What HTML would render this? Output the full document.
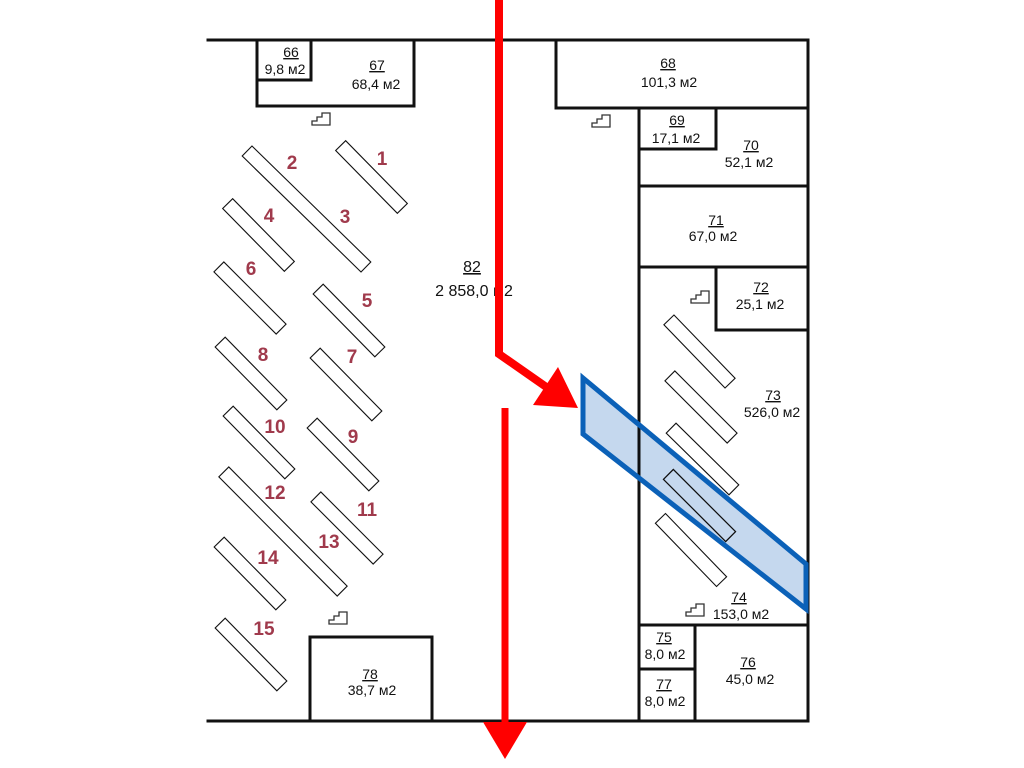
<!DOCTYPE html>
<html>
<head>
<meta charset="utf-8">
<style>
html,body{margin:0;padding:0;background:#fff;}
svg{display:block;}
.lbl{font-family:"Liberation Sans","DejaVu Sans",sans-serif;font-size:14px;fill:#111;text-anchor:middle;}
.u{text-decoration:underline;}
.num{font-family:"Liberation Sans",sans-serif;font-size:19px;font-weight:bold;fill:#a03a4c;text-anchor:middle;}
</style>
</head>
<body>
<svg width="1024" height="768" viewBox="0 0 1024 768" xmlns="http://www.w3.org/2000/svg">
<rect width="1024" height="768" fill="#fff"/>

<!-- shelves -->
<g fill="#fff" stroke="#111" stroke-width="1.1">
  <rect x="-44" y="-7" width="88" height="14" transform="translate(371.5,177) rotate(45.5)"/>
  <rect x="-83" y="-7" width="166" height="14" transform="translate(306.5,209) rotate(44.3)"/>
  <rect x="-44" y="-7" width="88" height="14" transform="translate(258.5,235) rotate(45.5)"/>
  <rect x="-44" y="-7" width="88" height="14" transform="translate(250,298) rotate(45)"/>
  <rect x="-44" y="-7" width="88" height="14" transform="translate(349,320.5) rotate(45.5)"/>
  <rect x="-44" y="-7" width="88" height="14" transform="translate(251,373.5) rotate(45.5)"/>
  <rect x="-44" y="-7" width="88" height="14" transform="translate(346,384.5) rotate(45.5)"/>
  <rect x="-44" y="-7" width="88" height="14" transform="translate(259,442.5) rotate(45.5)"/>
  <rect x="-44" y="-7" width="88" height="14" transform="translate(343,454.5) rotate(45.5)"/>
  <rect x="-84" y="-7" width="168" height="14" transform="translate(283,531.5) rotate(45.2)"/>
  <rect x="-44" y="-7" width="88" height="14" transform="translate(347,528) rotate(45)"/>
  <rect x="-44" y="-7" width="88" height="14" transform="translate(250,573.5) rotate(45.5)"/>
  <rect x="-44" y="-7" width="88" height="14" transform="translate(251,654.5) rotate(45.5)"/>
  <rect x="-44" y="-7" width="88" height="14" transform="translate(699.5,351.5) rotate(46)"/>
  <rect x="-44" y="-7" width="88" height="14" transform="translate(701,407) rotate(45)"/>
  <rect x="-44" y="-7" width="88" height="14" transform="translate(702.5,459) rotate(44.5)"/>
  <rect x="-44" y="-7" width="88" height="14" transform="translate(699.5,505.5) rotate(45)"/>
  <rect x="-44" y="-7" width="88" height="14" transform="translate(691,550) rotate(46)"/>
</g>

<!-- walls -->
<g stroke="#111" stroke-width="3" fill="none" stroke-linecap="square">
  <path d="M208,40 H808"/>
  <path d="M208,721 H808"/>
  <path d="M257,40 V106 H414 V40"/>
  <path d="M257,80 H311 V40"/>
  <path d="M556,40 V108 H808"/>
  <path d="M808,40 V721"/>
  <path d="M639,108 V721"/>
  <path d="M639,149 H716 V108"/>
  <path d="M639,186 H808"/>
  <path d="M639,267 H808"/>
  <path d="M716,267 V330 H808"/>
  <path d="M639,625 H808"/>
  <path d="M695,625 V721"/>
  <path d="M639,669 H695"/>
  <path d="M310,721 V637 H432 V721"/>
</g>

<!-- stairs icons -->
<g fill="none" stroke="#333" stroke-width="1.3" stroke-linejoin="miter">
  <path transform="translate(312,113)" d="M0,12 L0,8 L5,8 L5,4 L10,4 L10,0 L18,0 L18,12 Z"/>
  <path transform="translate(592,115)" d="M0,12 L0,8 L5,8 L5,4 L10,4 L10,0 L18,0 L18,12 Z"/>
  <path transform="translate(691,291)" d="M0,12 L0,8 L5,8 L5,4 L10,4 L10,0 L18,0 L18,12 Z"/>
  <path transform="translate(686,604)" d="M0,12 L0,8 L5,8 L5,4 L10,4 L10,0 L18,0 L18,12 Z"/>
  <path transform="translate(329,612)" d="M0,12 L0,8 L5,8 L5,4 L10,4 L10,0 L18,0 L18,12 Z"/>
</g>

<!-- room labels -->
<text class="lbl u" x="291" y="57">66</text>
<text class="lbl" x="285" y="74">9,8 м2</text>
<text class="lbl u" x="377" y="70">67</text>
<text class="lbl" x="376" y="89">68,4 м2</text>
<text class="lbl u" x="668" y="68">68</text>
<text class="lbl" x="669" y="87">101,3 м2</text>
<text class="lbl u" x="677" y="125">69</text>
<text class="lbl" x="676" y="143">17,1 м2</text>
<text class="lbl u" x="751" y="150">70</text>
<text class="lbl" x="749" y="167">52,1 м2</text>
<text class="lbl u" x="716" y="225">71</text>
<text class="lbl" x="713" y="241">67,0 м2</text>
<text class="lbl u" x="761" y="292">72</text>
<text class="lbl" x="760" y="309">25,1 м2</text>
<text class="lbl u" x="773" y="400">73</text>
<text class="lbl" x="772" y="417">526,0 м2</text>
<text class="lbl u" x="739" y="602">74</text>
<text class="lbl" x="741" y="619">153,0 м2</text>
<text class="lbl u" x="664" y="642">75</text>
<text class="lbl" x="665" y="659">8,0 м2</text>
<text class="lbl u" x="664" y="689">77</text>
<text class="lbl" x="665" y="706">8,0 м2</text>
<text class="lbl u" x="748" y="667">76</text>
<text class="lbl" x="750" y="684">45,0 м2</text>
<text class="lbl u" x="370" y="679">78</text>
<text class="lbl" x="372" y="695">38,7 м2</text>
<text class="lbl u" x="472" y="272" style="font-size:16px">82</text>
<text class="lbl" x="474" y="296" style="font-size:16px">2 858,0 м2</text>

<!-- shelf numbers -->
<text class="num" x="382" y="165">1</text>
<text class="num" x="292" y="169">2</text>
<text class="num" x="345" y="223">3</text>
<text class="num" x="269" y="222">4</text>
<text class="num" x="367" y="307">5</text>
<text class="num" x="251" y="275">6</text>
<text class="num" x="352" y="363">7</text>
<text class="num" x="263" y="361">8</text>
<text class="num" x="353" y="443">9</text>
<text class="num" x="275" y="433">10</text>
<text class="num" x="367" y="516">11</text>
<text class="num" x="275" y="499">12</text>
<text class="num" x="329" y="548">13</text>
<text class="num" x="268" y="564">14</text>
<text class="num" x="264" y="635">15</text>

<!-- blue highlighted zone -->
<polygon points="583,378 806,564 806,609 583,434" fill="#c5d8ee" style="mix-blend-mode:multiply" stroke="none"/>
<g fill="none" stroke="#111" stroke-width="1.1">
  <rect x="-44" y="-7" width="88" height="14" transform="translate(699.5,505.5) rotate(45)"/>
</g>
<polygon points="583,378 806,564 806,609 583,434" fill="none" stroke="#0b61b8" stroke-width="5" stroke-linejoin="miter"/>

<!-- red arrows -->
<polyline points="499,0 499,354 552,391" fill="none" stroke="#ff0000" stroke-width="8" stroke-linejoin="miter"/>
<polygon points="533,405 558,367 578,408" fill="#ff0000"/>
<line x1="505" y1="408" x2="505" y2="725" stroke="#ff0000" stroke-width="7"/>
<polygon points="483,722 527,722 505,759" fill="#ff0000"/>
</svg>
</body>
</html>
